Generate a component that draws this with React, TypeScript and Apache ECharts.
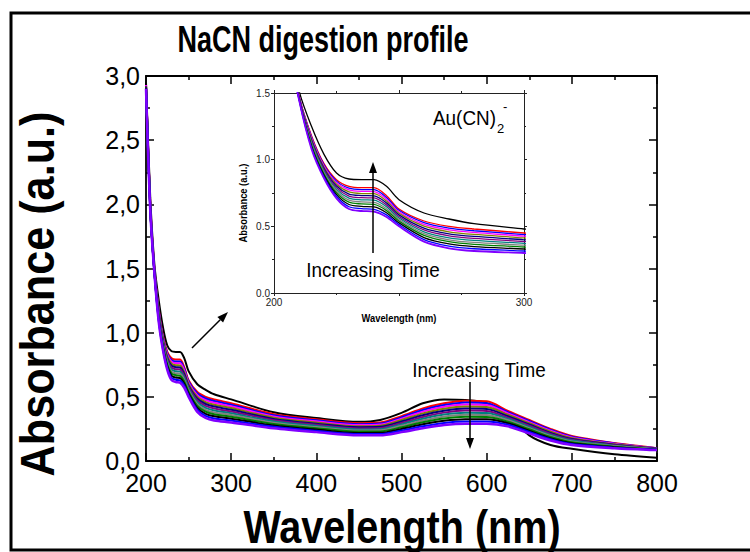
import React, { useEffect, useRef } from "react";
import * as echarts from "echarts";

// ---------- data ----------
const wavelengths = [200, 205, 210, 215, 220, 225, 230, 235, 240, 245, 250, 260, 270, 280, 300, 350, 400, 450, 475, 500, 525, 550, 575, 600, 625, 650, 675, 700, 750, 800];

// first scan (black)
const initialSpectrum = [2.95, 2.05, 1.52, 1.25, 1.04, 0.90, 0.855, 0.85, 0.85, 0.80, 0.70, 0.60, 0.555, 0.52, 0.48, 0.38, 0.335, 0.305, 0.32, 0.375, 0.45, 0.48, 0.475, 0.45, 0.355, 0.20, 0.125, 0.095, 0.052, 0.025];

// subsequent scans, top to bottom
const scan01 = [2.93, 2.00, 1.48, 1.18, 0.97, 0.85, 0.80, 0.79, 0.79, 0.73, 0.63, 0.54, 0.50, 0.48, 0.45, 0.365, 0.325, 0.295, 0.30, 0.35, 0.41, 0.45, 0.47, 0.465, 0.39, 0.32, 0.25, 0.195, 0.14, 0.10];
const scan02 = [2.93, 2.00, 1.48, 1.172, 0.961, 0.839, 0.786, 0.776, 0.776, 0.717, 0.620, 0.528, 0.487, 0.467, 0.438, 0.356, 0.317, 0.287, 0.292, 0.34, 0.398, 0.436, 0.456, 0.451, 0.380, 0.312, 0.243, 0.189, 0.137, 0.099];
const scan03 = [2.93, 1.99, 1.48, 1.164, 0.952, 0.828, 0.773, 0.762, 0.761, 0.704, 0.609, 0.515, 0.474, 0.454, 0.426, 0.347, 0.309, 0.280, 0.284, 0.33, 0.385, 0.423, 0.441, 0.437, 0.371, 0.303, 0.236, 0.184, 0.134, 0.098];
const scan04 = [2.92, 1.99, 1.47, 1.155, 0.943, 0.815, 0.758, 0.746, 0.745, 0.69, 0.598, 0.501, 0.459, 0.439, 0.413, 0.338, 0.30, 0.271, 0.275, 0.319, 0.371, 0.408, 0.425, 0.421, 0.36, 0.294, 0.228, 0.178, 0.13, 0.096];
const scan05 = [2.92, 1.98, 1.47, 1.146, 0.933, 0.802, 0.742, 0.731, 0.729, 0.676, 0.586, 0.487, 0.444, 0.424, 0.399, 0.328, 0.291, 0.263, 0.266, 0.308, 0.357, 0.392, 0.409, 0.406, 0.349, 0.284, 0.219, 0.171, 0.126, 0.095];
const scan06 = [2.92, 1.98, 1.47, 1.137, 0.923, 0.790, 0.727, 0.715, 0.713, 0.661, 0.574, 0.473, 0.429, 0.409, 0.386, 0.318, 0.282, 0.254, 0.257, 0.296, 0.343, 0.377, 0.393, 0.390, 0.338, 0.275, 0.211, 0.165, 0.123, 0.094];
const scan07 = [2.91, 1.97, 1.46, 1.128, 0.913, 0.777, 0.712, 0.699, 0.696, 0.647, 0.562, 0.459, 0.414, 0.394, 0.372, 0.308, 0.273, 0.246, 0.248, 0.285, 0.329, 0.362, 0.376, 0.374, 0.328, 0.265, 0.203, 0.159, 0.119, 0.092];
const scan08 = [2.91, 1.97, 1.46, 1.119, 0.903, 0.765, 0.696, 0.683, 0.680, 0.632, 0.551, 0.445, 0.399, 0.379, 0.359, 0.298, 0.264, 0.237, 0.239, 0.274, 0.315, 0.346, 0.360, 0.358, 0.317, 0.256, 0.195, 0.152, 0.116, 0.091];
const scan09 = [2.91, 1.97, 1.46, 1.11, 0.893, 0.752, 0.681, 0.668, 0.664, 0.618, 0.539, 0.432, 0.385, 0.365, 0.345, 0.288, 0.255, 0.229, 0.23, 0.263, 0.302, 0.331, 0.344, 0.343, 0.306, 0.247, 0.187, 0.146, 0.112, 0.09];
const scan10 = [2.91, 1.96, 1.46, 1.10, 0.882, 0.738, 0.664, 0.65, 0.646, 0.602, 0.526, 0.416, 0.368, 0.348, 0.33, 0.277, 0.245, 0.219, 0.22, 0.25, 0.286, 0.314, 0.326, 0.325, 0.294, 0.236, 0.178, 0.139, 0.108, 0.088];
const scan11 = [2.90, 1.96, 1.45, 1.09, 0.871, 0.724, 0.647, 0.633, 0.628, 0.586, 0.513, 0.401, 0.352, 0.332, 0.315, 0.266, 0.235, 0.21, 0.21, 0.238, 0.271, 0.297, 0.308, 0.308, 0.282, 0.226, 0.169, 0.132, 0.104, 0.087];
const scan12 = [2.90, 1.95, 1.45, 1.08, 0.86, 0.71, 0.63, 0.615, 0.61, 0.57, 0.50, 0.385, 0.335, 0.315, 0.30, 0.255, 0.225, 0.20, 0.20, 0.225, 0.255, 0.28, 0.29, 0.29, 0.27, 0.215, 0.16, 0.125, 0.10, 0.085];

const laterScans = [scan01, scan02, scan03, scan04, scan05, scan06, scan07, scan08, scan09, scan10, scan11, scan12];
const scanColors = ["#FF0000", "#0000FF", "#FF00FF", "#808000", "#000080", "#800080", "#008080", "#808080", "#008000", "#000000", "#0000FF", "#8000FF"];

const mainYTickLabels = ["0,0", "0,5", "1,0", "1,5", "2,0", "2,5", "3,0"];
const mainXTickLabels = ["200", "300", "400", "500", "600", "700", "800"];
const insetYTickLabels = ["0.0", "0.5", "1.0", "1.5"];
const insetXTickLabels = ["200", "", "300"];

// ---------- styling ----------
const FF = "'Liberation Sans', Arial, sans-serif";

function arrow(x1: number, y1: number, x2: number, y2: number, head = 11, half = 4) {
  const dx = x2 - x1, dy = y2 - y1;
  const len = Math.sqrt(dx * dx + dy * dy);
  const ux = dx / len, uy = dy / len;
  const bx = x2 - ux * head, by = y2 - uy * head;
  return [
    { type: "line", z: 100, shape: { x1, y1, x2: bx, y2: by }, style: { stroke: "#000", lineWidth: 1.5 } },
    {
      type: "polygon", z: 100,
      shape: { points: [[x2, y2], [bx - uy * half, by + ux * half], [bx + uy * half, by - ux * half]] },
      style: { fill: "#000" },
    },
  ];
}

function text(x: number, y: number, t: string, size: number, opts: any = {}) {
  return {
    type: "text", z: 100, x, y, rotation: opts.rotation || 0,
    scaleX: opts.sx || 1, scaleY: 1,
    style: {
      text: t, fontSize: size, fontFamily: FF, fontWeight: opts.bold ? "bold" : "normal", fill: "#000",
      align: opts.align || "center", verticalAlign: opts.valign || "middle",
      textAlign: opts.align || "center", textVerticalAlign: opts.valign || "middle",
    },
  };
}

export default function App() {
  const ref = useRef<HTMLDivElement>(null);
  useEffect(() => {
    if (!ref.current) return;
    const chart = echarts.init(ref.current, null, { renderer: "svg" });

    const allScans = [initialSpectrum, ...laterScans];
    const allColors = ["#000000", ...scanColors];
    const mkSeries = (axisBase: number, widthMain: number) =>
      allScans.map((vals, k) => ({
        type: "line",
        xAxisIndex: axisBase,
        yAxisIndex: axisBase,
        data: wavelengths.map((w, i) => [w, vals[i]]),
        showSymbol: false,
        symbol: "none",
        smooth: 0.3,
        clip: true,
        silent: true,
        lineStyle: { color: allColors[k], width: k === allScans.length - 1 ? widthMain + 0.5 : widthMain },
        z: 2,
      }));

    const blk = { color: "#000" };
    const mainX = (pos: string, labels: boolean) => ({
      type: "value", gridIndex: 0, position: pos, min: 200, max: 800, interval: 100,
      axisLine: { show: true, onZero: false, lineStyle: { ...blk, width: 1.8 } },
      axisTick: { show: true, inside: true, length: 8, lineStyle: { ...blk, width: 1.5 } },
      minorTick: { show: true, splitNumber: 2, length: 4, lineStyle: { ...blk, width: 1.5 } },
      splitLine: { show: false },
      axisLabel: {
        show: labels, fontSize: 25, fontFamily: FF, color: "#000", margin: 9,
        formatter: (v: number) => mainXTickLabels[Math.round((v - 200) / 100)] ?? "",
      },
    });
    const mainY = (pos: string, labels: boolean) => ({
      type: "value", gridIndex: 0, position: pos, min: 0, max: 3, interval: 0.5,
      axisLine: { show: true, onZero: false, lineStyle: { ...blk, width: 1.8 } },
      axisTick: { show: true, inside: true, length: 8, lineStyle: { ...blk, width: 1.5 } },
      minorTick: { show: true, splitNumber: 2, length: 4, lineStyle: { ...blk, width: 1.5 } },
      splitLine: { show: false },
      axisLabel: {
        show: labels, fontSize: 25, fontFamily: FF, color: "#000", margin: 6,
        formatter: (v: number) => mainYTickLabels[Math.round(v / 0.5)] ?? "",
      },
    });
    const insetX = (pos: string, labels: boolean) => ({
      type: "value", gridIndex: 1, position: pos, min: 200, max: 300, interval: 50,
      axisLine: { show: true, onZero: false, lineStyle: { color: "#222", width: 1 } },
      axisTick: { show: true, inside: false, length: 3, lineStyle: { color: "#222", width: 1 } },
      minorTick: { show: true, splitNumber: 2, length: 2, lineStyle: { color: "#222", width: 1 } },
      splitLine: { show: false },
      axisLabel: {
        show: labels, fontSize: 10, fontFamily: FF, color: "#222", margin: 4,
        formatter: (v: number) => insetXTickLabels[Math.round((v - 200) / 50)] ?? "",
      },
    });
    const insetY = (pos: string, labels: boolean) => ({
      type: "value", gridIndex: 1, position: pos, min: 0, max: 1.5, interval: 0.5,
      axisLine: { show: true, onZero: false, lineStyle: { color: "#222", width: 1 } },
      axisTick: { show: true, inside: false, length: 3, lineStyle: { color: "#222", width: 1 } },
      minorTick: { show: true, splitNumber: 2, length: 2, lineStyle: { color: "#222", width: 1 } },
      splitLine: { show: false },
      axisLabel: {
        show: labels, fontSize: 10, fontFamily: FF, color: "#222", margin: 4,
        formatter: (v: number) => insetYTickLabels[Math.round(v / 0.5)] ?? "",
      },
    });

    chart.setOption({
      animation: false,
      backgroundColor: "#fff",
      grid: [
        { left: 146, top: 76, width: 511, height: 385 },
        { left: 274, top: 93, width: 250, height: 200 },
      ],
      xAxis: [mainX("bottom", true), mainX("top", false), insetX("bottom", true), insetX("top", false)],
      yAxis: [mainY("left", true), mainY("right", false), insetY("left", true), insetY("right", false)],
      series: [...mkSeries(0, 2), ...mkSeries(2, 1.3)],
      graphic: [
        { type: "rect", z: 100, shape: { x: 11, y: 13, width: 800, height: 537 }, style: { fill: "none", stroke: "#000", lineWidth: 3 } },
        text(323, 39, "NaCN digestion profile", 37, { bold: true, sx: 0.73 }),
        text(402, 527, "Wavelength (nm)", 46, { bold: true, sx: 0.86 }),
        text(38, 294, "Absorbance (a.u.)", 48, { bold: true, rotation: Math.PI / 2, sx: 0.9 }),
        text(243, 203, "Absorbance (a.u.)", 11, { bold: true, rotation: Math.PI / 2, sx: 0.85 }),
        text(399, 318, "Wavelength (nm)", 11, { bold: true, sx: 0.85 }),
        text(433, 118, "Au(CN)", 21, { align: "left", sx: 0.9 }),
        text(497, 128, "2", 13, { align: "left" }),
        text(503, 106, "-", 13, { align: "left" }),
        text(373, 270, "Increasing Time", 21, { sx: 0.9 }),
        text(479, 370, "Increasing Time", 21, { sx: 0.9 }),
        ...arrow(373, 253, 373, 162),
        ...arrow(470, 382, 470, 449),
        ...arrow(192, 348, 228, 312),
      ],
    });
    return () => chart.dispose();
  }, []);
  return <div ref={ref} style={{ position: "absolute", left: 0, top: 0, width: 750, height: 552 }} />;
}
